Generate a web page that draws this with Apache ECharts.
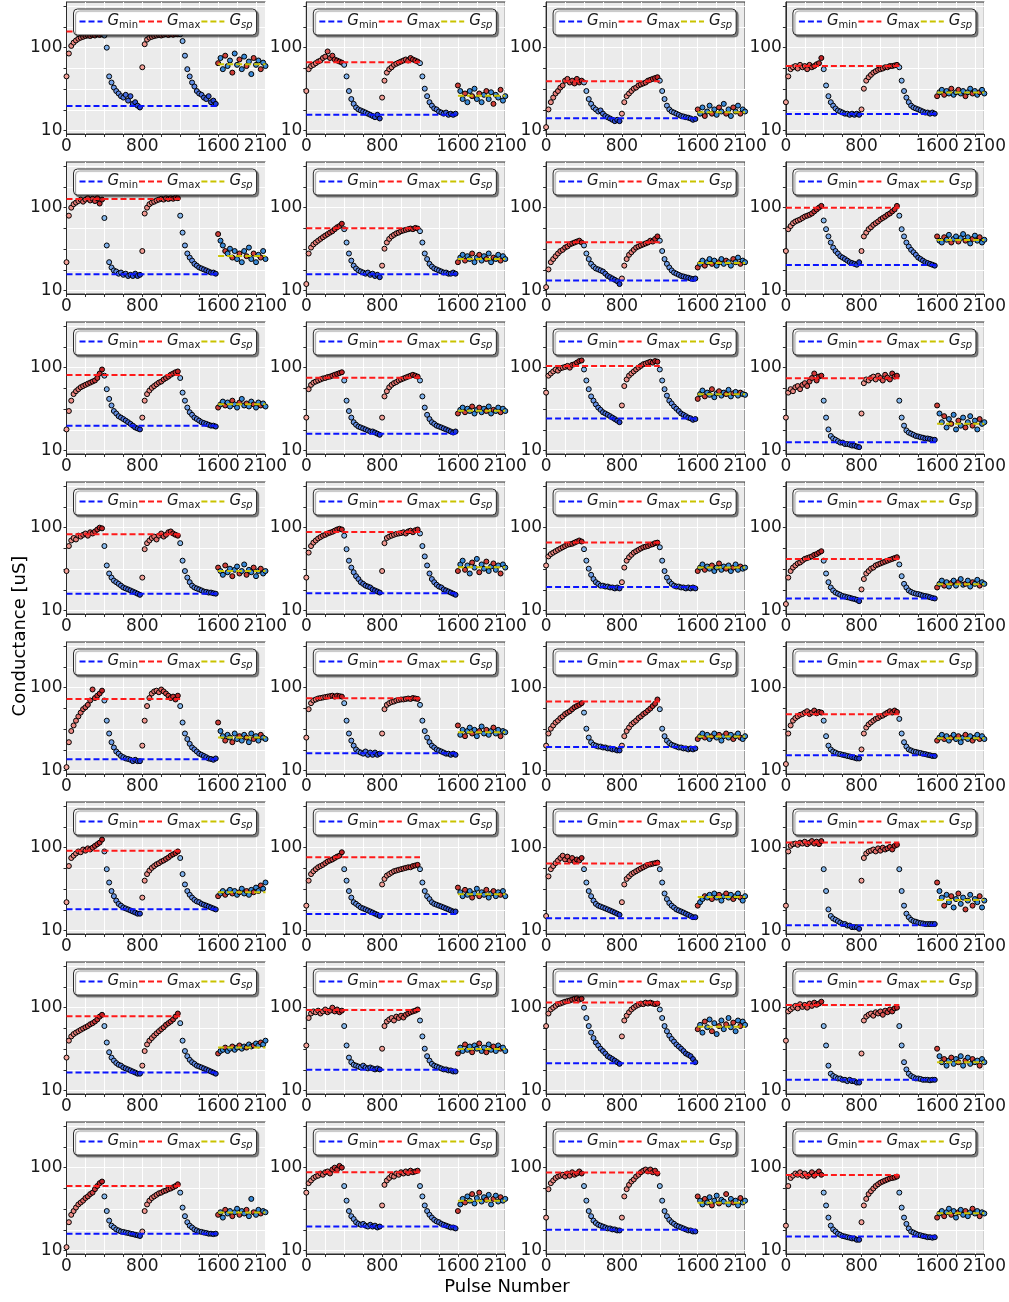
<!DOCTYPE html>
<html>
<head>
<meta charset="utf-8">
<script src="https://cdn.jsdelivr.net/npm/echarts@6/dist/echarts.min.js"></script>
<style>
  html, body { margin: 0; padding: 0; background: #ffffff; }
  #chart { width: 1009px; height: 1302px; }
</style>
</head>
<body>
<div id="chart"></div>
<script>
// Pulse numbers at which each device trace is sampled
const pulseNumbers = [
  0,25,50,75,100,125,150,175,200,225,250,275,300,325,350,375,
  400,425,450,475,500,525,550,575,600,625,650,675,700,725,750,775,
  800,825,850,875,900,925,950,975,1000,1025,1050,1075,1100,1125,1150,1175,
  1200,1225,1250,1275,1300,1325,1350,1375,1400,1425,1450,1475,1500,1525,1550,1575,
  1600,1625,1650,1675,1700,1725,1750,1775,1800,1825,1850,1875,1900,1925,1950,1975,2000,2025,2050,2075,2100
];

// Reference conductance levels per device (uS)
const gMin = [19.8,15.5,14.1,15.8, 15.7,15.7,13.2,20.4, 20.0,16.0,24.3,12.6, 16.0,16.2,19.3,14.0,
              13.7,16.2,19.3,15.3, 18.1,15.9,14.1,11.6, 16.5,17.8,21.3,13.5, 16.0,19.5,17.9,14.8];
const gMax = [156,66.5,39.3,60, 127,56.4,38.2,100, 81.6,75.8,104.7,74.3, 83,88.7,66,41.9,
              73,74.3,68.3,47.7, 92,76.6,64.2,115, 78.7,93.7,115,107.7, 60,87.9,87.1,81.6];
const gSp  = [63,26.4,16.6,28.7, 26.2,24.1,21.5,40.8, 36.1,30.3,47.7,21, 30,33.3,33,20.8,
              25,29,25.7,24.5, 29,27.4,25.5,23.4, 33,31.7,59,21.9, 28.7,40,37.8,28.2];

// Pulse spans of the dashed reference levels
const gMinSpan = [0, 1600];
const gMaxSpan = [0, 1200];
const gSpSpan  = [1600, 2100];

// Axis tick positions
const xTickLabels = [0, 800, 1600, 2100];
const yTickValues = [10, 17.783, 31.623, 56.234, 100, 177.83, 316.23];
const yTickLabels = [10, 100];

// Conductance traces (uS): potentiation, depression, potentiation, depression, set-point hold
const traces = [
  [45,85,105,115,122,128,132,135,138,140,138,142,140,145,142,145, 140,100,45,38,33,30,28,26,25,27,23,26,21,22,20,19,
   58,110,125,132,135,138,140,142,140,143,145,142,145,143,146,145, 145,120,80,55,45,38,34,30,28,27,25,24,26,22,23,21,
   65,75,55,80,60,70,50,85,62,72,55,78,60,68,48,75,62,70,55,66,60],
  [30,55,60,62,65,68,70,75,78,90,75,80,72,70,68,66, 62,45,30,24,21,19,18,17.5,17,16.5,16,15.5,15,14.5,15.5,14,
   25,40,50,55,58,62,64,66,68,70,72,70,75,72,70,68, 65,45,32,26,22,20,18.5,18,17,16.5,16,16.5,15.5,16,15.5,16,
   35,30,24,28,22,30,26,32,24,28,22,27,30,24,29,21,27,25,31,23,26],
  [11,18,22,25,28,30,33,35,40,42,38,40,37,42,38,40, 38,30,24,21,19,18,17,17.5,16,15,14.5,14,13.5,13,13.5,13,
   16,22,26,28,30,32,33,35,36,37,38,40,41,42,43,44, 40,30,24,20,18,17,16.5,16,15.5,15,14.8,14.5,14.3,14,13.5,13.8,
   18,16,19,15,17,20,16,18,15.5,19,17,21,16,18,15,19,17,20,16,18,17],
  [22,45,55,58,60,56,62,58,60,55,62,58,60,63,65,75, 55,35,26,22,20,18.5,17.5,17,16.5,16,16,15.5,16,15.5,16,15.5,
   18,32,40,44,47,50,52,54,55,56,58,58,60,60,61,62, 58,40,30,25,22,20,19,18.5,18,17.5,17,16.5,16.5,16,16.5,16,
   26,29,31,27,30,28,32,27,29,31,28,30,26,29,32,28,30,27,29,31,28],
  [22,80,100,110,115,120,125,118,125,130,122,128,120,130,112,125, 75,35,22,19,17.5,17,16,16.5,15.5,16,15,15.5,15,16,15,15.5,
   30,85,100,110,115,118,122,125,128,125,130,127,130,128,132,130, 80,50,35,28,25,23,21,20,19,18.5,18,17.5,17,16.5,16.5,16,
   48,40,35,30,28,32,25,30,24,28,22,30,26,33,24,28,22,27,25,30,24],
  [12,28,33,36,38,40,42,44,46,48,50,52,55,58,60,64, 55,38,28,23,20,18.5,17.5,17,16.5,16,16.5,15.5,16,15,15.5,14.5,
   20,32,38,42,45,47,49,50,52,53,54,55,56,55,57,56, 52,38,28,24,21,19.5,18.5,18,17.5,17,16.5,16.5,16,16,16.5,16,
   22,25,27,23,26,24,28,22,25,27,23,26,24,28,22,25,24,27,23,26,24],
  [11,18,22,24,26,28,30,31,33,34,36,37,38,39,40,38, 35,28,24,21,19.5,18.5,18,17.5,17,16,15,14.5,14,13.5,13,12,
   14,20,24,27,29,31,33,34,35,36,37,38,40,39,42,45, 40,30,24,21,19,17.5,16.5,16,15.5,15,14.8,14.5,14.3,14,13.8,14,
   19,21,23,20,22,24,21,23,20,22,24,21,23,22,20,24,22,25,21,23,22],
  [30,55,60,65,68,70,72,75,78,80,82,85,90,95,100,105, 70,55,45,38,33,30,28,26,25,24,23,22,21.5,21,20.5,22,
   30,45,50,55,58,62,65,68,72,75,78,82,85,90,95,105, 80,55,45,38,34,31,29,27,25,24,23,22,21.5,21,20.5,20,
   45,40,38,44,41,47,38,42,45,39,43,48,40,44,37,42,46,40,44,38,41],
  [18,30,40,48,52,55,58,60,62,64,66,68,70,75,85,95, 80,55,42,35,30,28,26,25,24,23,22,21,20,19,18.5,18,
   25,40,48,53,57,60,63,66,68,72,75,78,82,85,88,90, 75,50,40,33,29,27,25,24,23,22,21.5,21,20.5,20,20,19.5,
   33,36,39,35,38,34,40,36,33,38,42,35,37,34,39,36,33,38,35,37,34],
  [25,55,62,66,68,70,72,74,75,77,78,80,82,84,86,88, 70,40,30,25,22,20.5,19.5,19,18.5,18,17.5,17,17,16.5,16,15.5,
   25,45,52,58,62,65,67,70,72,74,76,78,80,82,80,78, 70,45,33,27,24,22,21,20,19.5,19,18.5,18,17.5,17,16.5,17,
   28,31,33,29,32,30,34,28,31,33,29,32,30,34,28,31,30,33,29,32,30],
  [50,80,85,90,95,92,98,100,102,105,100,108,110,115,120,122, 95,70,55,45,40,36,33,31,29,28,27,26,25,24,23,22,
   35,60,72,80,85,90,95,100,105,110,112,115,118,115,120,118, 95,70,55,46,40,37,34,32,30,28,27,26,25,24.5,23.5,24,
   42,48,53,45,50,47,55,44,49,52,46,50,48,54,45,49,51,46,50,48,47],
  [25,50,55,52,58,60,55,62,65,60,68,75,85,70,78,80, 40,25,18,15,14,13.5,13,12.5,12.5,12,12,11.8,11.5,11.5,11.2,11,
   28,65,72,70,75,78,72,80,75,70,82,76,72,85,78,80, 40,25,20,17.5,16.5,16,15.5,15,14.8,14.5,14.3,14,14,13.8,13.5,13.5,
   35,28,22,26,19,24,21,27,18,23,20,25,19,22,26,20,23,18,24,21,22],
  [30,60,70,75,72,80,78,82,85,80,88,85,90,95,100,98, 60,35,28,25,23,22,21,20,19,18.5,18,17.5,17,16.5,16,15.5,
   25,55,65,70,75,78,72,80,85,78,82,88,90,85,82,80, 65,40,30,25,22,20,19,18.5,18,17.5,17,16.8,16.5,16.5,16.2,16,
   33,30,27,35,29,32,26,31,34,28,30,36,27,31,29,33,26,30,32,28,30],
  [25,50,60,66,70,74,77,80,82,85,87,89,92,95,97,95, 80,55,40,33,29,26,24,22,21,20,19.5,19,18,17.5,17,16.5,
   30,65,75,78,80,82,84,85,86,88,85,90,92,88,93,95, 85,60,45,35,28,24,22,20.5,19.5,19,18,17.5,17,16.5,16,15.5,
   30,36,40,31,35,28,38,33,42,29,36,32,39,30,34,37,31,35,28,36,33],
  [35,45,48,50,52,54,56,58,60,62,63,64,66,68,70,68, 55,40,32,27,24,22,21,20,20,19.5,19.5,19,19,18.5,19,18.5,
   22,33,40,44,47,50,52,54,56,58,59,60,62,63,65,66, 58,40,30,25,22.5,21,20,19.5,19.5,19,19,18.5,19,18.5,19,18.5,
   30,33,36,31,34,32,35,30,33,37,31,34,32,35,30,33,36,31,34,32,33],
  [12,25,30,33,35,37,38,40,42,43,44,45,47,48,50,52, 40,28,22,19,17.5,16.5,16,15.5,15,14.8,14.5,14.3,14,13.8,13.5,13,
   18,24,28,30,32,33,35,36,37,38,39,40,41,42,43,44, 36,26,21,19,17.5,16.8,16.3,16,15.8,15.5,15.2,15,14.8,14.5,14.2,14,
   19,21,23,20,22,19.5,21.5,23,20,22,24,20.5,21,23,19.5,22,21,23.5,20,22,21],
  [11,22,30,35,40,45,50,55,58,62,70,95,75,80,85,92, 70,40,28,22,19,17,16,15,14.5,14,13.8,13.5,13,13.5,13,13,
   20,40,60,75,85,90,92,88,95,90,85,80,75,78,72,80, 60,38,28,24,21,19,18,17,16,15.5,15,14.5,14,13.8,13.5,14,
   38,30,26,23,27,25,22,28,24,26,23,27,25,22,28,24,26,23,27,25,24],
  [25,55,65,70,72,74,75,76,77,78,79,80,78,80,79,78, 65,40,28,23,20,18,17,16.5,16,17,15.5,16.5,15.5,16.5,15.5,16,
   28,55,62,65,67,68,70,71,72,72,73,74,73,75,74,73, 62,40,30,25,22,20,19,18,17.5,17,16.5,16,16,15.5,16,15.5,
   35,27,31,26,30,33,28,31,26,30,34,28,31,27,30,33,28,31,26,30,29],
  [20,28,32,35,38,40,43,45,48,50,52,55,58,60,62,65, 50,32,25,22,20.5,20,19.5,19.5,19,19,18.5,18.5,18,18,17.5,17.5,
   20,26,30,33,36,38,40,43,45,48,50,53,56,60,64,72, 55,32,26,23,21.5,20.5,20,19.5,19,19,18.5,18.5,18,18.5,18,18.5,
   24,26,28,25,27,24,26,28,25,27,23,26,28,25,27,24,26,28,25,24,26],
  [12,28,35,40,43,45,47,48,50,52,48,50,53,49,51,50, 40,26,20,18,17,16.5,16,15.8,15.5,15.3,15,14.8,14.5,14.3,14,14,
   18,28,33,36,38,40,42,43,45,46,48,50,52,50,53,51, 42,28,22,19.5,18,17.5,17,16.8,16.5,16.3,16,15.8,15.5,15.3,15,15,
   23,25,27,24,26,23,25,27,24,26,22,25,27,24,26,23,25,27,24,26,24],
  [22,60,75,80,85,90,88,95,92,98,95,100,105,110,115,125, 90,55,38,30,26,23,21,20,19,18.5,18,17.5,17,16.5,16,16,
   25,40,48,53,57,60,63,65,68,70,73,76,80,83,86,90, 75,48,36,30,27,25,23.5,22.5,22,21,20.5,20,19.5,19,18.5,18,
   26,28,30,27,29,31,28,30,27,29,32,28,30,27,31,29,33,30,35,32,38],
  [20,40,48,52,55,58,60,62,65,68,70,72,75,78,80,88, 55,40,30,25,22,21,20,19,18.5,18,17.5,17,16.5,16,15.5,15,
   36,42,46,48,50,52,53,54,55,56,57,58,58,60,61,62, 55,38,30,26,24,22,21,20.5,20,19.5,19,18.5,18,17.5,17,17,
   33,29,26,31,27,30,25,28,32,26,29,27,31,25,28,30,26,29,27,30,26],
  [15,45,55,60,65,70,75,80,72,78,70,75,68,72,70,75, 55,38,30,26,23,21,20,19.5,19,18.5,18,17.5,17,16.5,16,15.5,
   22,36,42,45,48,50,52,54,56,58,60,62,63,64,65,66, 55,38,28,24,21.5,20,19,18,17.5,17,16.5,16,15.5,15,14.5,14.5,
   20,22,24,26,25,27,24,28,25,27,23,26,28,25,27,24,26,28,25,23,26],
  [20,90,105,110,112,108,115,112,118,110,115,120,112,118,110,120, 55,30,18,15,14,13.5,13,12.5,12,12,11.5,11.5,11,11,11,10.5,
   40,75,85,90,92,95,90,98,92,100,95,98,102,95,105,108, 55,30,20,16,14.5,13.5,13,12.8,12.5,12.3,12.2,12,12,12,12,12,
   38,30,25,20,27,22,26,19,24,28,21,25,18,23,27,20,24,22,26,19,23],
  [25,40,45,48,50,52,54,56,58,60,63,65,68,72,78,82, 60,38,29,25,23,21.5,20.5,20,19,18.5,18,17.5,17,16.5,16,16,
   20,30,36,40,43,46,49,52,55,58,62,65,68,72,78,85, 65,40,30,26,23.5,22,21,20,19.5,19,18.5,18,17.5,17,16.5,16,
   28,30,31,33,30,32,34,31,33,35,32,34,33,36,34,35,37,35,38,36,40],
  [35,75,85,90,88,92,85,90,95,88,92,100,90,95,88,92, 60,35,25,22,20.5,20,19.5,19,20,19,18.5,19,18.5,18,18.5,18,
   32,60,68,72,75,70,78,75,80,76,82,85,88,90,92,95, 70,45,32,26,23,21,20,19.5,19,18.5,18,18,17.5,17.5,17,17,
   28,33,30,36,31,34,29,35,32,37,30,33,29,36,31,34,30,35,32,33,30],
  [60,85,95,100,105,110,112,115,118,120,122,125,128,130,125,128, 100,75,60,50,43,38,35,32,30,28,26,25,24,23,22,21,
   45,70,80,88,95,100,105,108,112,110,115,112,115,112,110,112, 95,75,60,52,46,42,39,36,34,32,30,28,27,26,24,22,
   55,62,50,68,58,72,52,65,48,60,70,55,63,75,58,66,52,70,60,68,62],
  [40,90,95,100,105,98,110,102,108,100,112,105,115,108,112,118, 60,35,20,16,15,14.5,14,14,13.5,13.5,13,13.5,13,13,12.5,12.5,
   28,70,78,82,85,80,88,85,90,82,92,88,95,90,98,100, 60,35,22,18,16,15,14.5,14,14,13.8,13.5,13.5,13.5,13.3,13.5,13.5,
   32,26,22,24,20,23,25,21,24,22,26,20,23,25,21,24,22,23,20,24,22],
  [11,22,27,30,33,36,38,40,43,45,48,50,55,60,65,68, 45,30,23,20,19,18,17.5,17,16.8,16.5,16.3,16,15.8,15.5,15.3,15,
   17,30,36,40,43,45,47,49,50,52,53,55,56,58,60,63, 50,33,26,22,20,19,18,17.5,17,16.8,16.5,16.3,16,16,15.8,16,
   27,29,25,31,28,30,26,29,32,27,30,28,31,26,42,29,27,31,28,30,29],
  [50,65,70,75,78,80,85,82,88,90,85,95,100,95,105,100, 60,40,30,26,24,22,21,20.5,21,20,19.5,20.5,19.5,20,19,19.5,
   35,62,70,75,80,78,85,82,88,85,90,86,92,88,90,92, 60,45,35,30,27,25,23.5,22.5,22,21,20.5,20,19.5,19,19,18.5,
   30,36,42,38,45,40,48,37,43,50,39,44,41,47,36,42,46,39,44,40,42],
  [25,55,65,70,75,78,80,82,78,85,80,88,82,85,90,85, 60,40,30,26,23,21.5,20.5,20,19.5,19,18.5,18.5,18,18,17.5,17.5,
   25,45,55,62,68,72,78,82,88,92,95,90,95,88,92,85, 60,40,30,26,23.5,22,21,20,19.5,19,18.5,18,17.5,17.5,17,17,
   45,40,36,42,38,44,35,40,46,37,41,39,48,36,42,38,40,35,43,38,40],
  [20,60,75,80,85,82,88,80,85,78,82,88,80,85,90,82, 50,35,25,20,18,17,16,15.5,15,14.8,14.5,14.3,14,14,13.5,13.5,
   22,35,42,48,52,56,60,63,66,68,70,72,74,75,76,78, 50,33,25,21,18.5,17,16.5,16,15.5,15.3,15,14.8,14.5,14.5,14.3,14.5,
   25,28,30,26,29,32,27,30,25,29,31,27,30,26,29,32,28,30,26,29,28]
];

// ---- styling helpers ----
const FONT = 'DejaVu Sans';
const INK = '#1a1a1a';
const potLight = [244, 160, 152], potDark = [190, 24, 28];
const depLight = [136, 186, 238], depDark = [24, 52, 210];

function mixColor(a, b, t) {
  const c = a.map((v, i) => Math.round(v + (b[i] - v) * t));
  return 'rgb(' + c.join(',') + ')';
}

// Marker fill: reds while potentiating, blues while depressing,
// both darkening through each 400-pulse train; mixed during the hold.
function markerColor(pulse, idx) {
  if (pulse >= 1600) return idx % 3 === 1 ? '#cf3f38' : '#3a8ad8';
  const t = (pulse % 400) / 400;
  const potentiating = Math.floor(pulse / 400) % 2 === 0;
  return potentiating ? mixColor(potLight, potDark, t) : mixColor(depLight, depDark, t);
}

const legendText = {
  Gmin: '{g|G}{s|min}',
  Gmax: '{g|G}{s|max}',
  Gsp: '{g|G}{si|sp}'
};

// ---- layout ----
const NCOLS = 4;
const PLOT_W = 199, PLOT_H = 132;
const grids = [], xAxes = [], yAxes = [], series = [], legends = [];

traces.forEach((trace, k) => {
  const row = Math.floor(k / NCOLS), col = k % NCOLS;
  const left = 66.5 + col * 239.8;
  const top = 2 + row * 160;

  grids.push({
    left: left, top: top, width: PLOT_W, height: PLOT_H,
    show: true, backgroundColor: '#ebebeb',
    borderColor: '#2b2b2b', borderWidth: 1
  });

  xAxes.push({
    gridIndex: k, type: 'value', min: 0, max: 2100, interval: 200,
    axisLine: { show: true, onZero: false, lineStyle: { color: '#2b2b2b', width: 1 } },
    axisTick: { show: true, length: 3, lineStyle: { color: '#2b2b2b', width: 1 } },
    axisLabel: {
      show: true, showMinLabel: true, showMaxLabel: true, margin: 4,
      fontSize: 17, fontFamily: FONT, color: INK,
      formatter: v => (xTickLabels.indexOf(v) >= 0 ? String(v) : '')
    },
    splitLine: { show: true, lineStyle: { color: '#ffffff', width: 1 } }
  });

  yAxes.push({
    gridIndex: k, type: 'log', logBase: 10, min: 9.1, max: 355,
    axisLine: { show: true, onZero: false, lineStyle: { color: '#2b2b2b', width: 1 } },
    axisTick: { show: true, length: 3, customValues: yTickValues, lineStyle: { color: '#2b2b2b', width: 1 } },
    axisLabel: {
      show: true, margin: 4, customValues: yTickLabels,
      fontSize: 17, fontFamily: FONT, color: INK,
      formatter: v => String(Math.round(v))
    },
    splitLine: { show: true, lineStyle: { color: '#ffffff', width: 1 } }
  });

  series.push({
    type: 'scatter', xAxisIndex: k, yAxisIndex: k, z: 2, silent: true,
    symbol: 'circle', symbolSize: 5,
    data: pulseNumbers.map((p, i) => [p, trace[i]]),
    itemStyle: {
      color: params => markerColor(params.data[0], params.dataIndex),
      borderColor: '#000000', borderWidth: 1, opacity: 1
    }
  });

  const levelLine = (name, level, span, color) => ({
    name: name, type: 'line', xAxisIndex: k, yAxisIndex: k, z: 3, silent: true,
    symbol: 'none', showSymbol: false,
    data: [[span[0], level], [span[1], level]],
    lineStyle: { color: color, width: 2, type: [6, 3] },
    itemStyle: { color: color }
  });
  series.push(levelLine('Gmin', gMin[k], gMinSpan, '#0a14ff'));
  series.push(levelLine('Gmax', gMax[k], gMaxSpan, '#ff1a1a'));
  series.push(levelLine('Gsp', gSp[k], gSpSpan, '#c9c300'));

  legends.push({
    left: left + 7, top: top + 7,
    orient: 'horizontal',
    data: ['Gmin', 'Gmax', 'Gsp'],
    selectedMode: false,
    itemWidth: 23, itemHeight: 12, itemGap: 0,
    padding: [5, 4, 5, 5],
    itemStyle: { opacity: 0 },
    lineStyle: { width: 2, type: [6, 3] },
    backgroundColor: '#ffffff',
    borderColor: '#2a2a2a', borderWidth: 1, borderRadius: 4,
    shadowColor: 'rgba(0,0,0,0.45)', shadowBlur: 1, shadowOffsetX: 2, shadowOffsetY: 2,
    formatter: name => legendText[name],
    textStyle: {
      fontFamily: FONT, color: INK,
      rich: {
        g: { fontSize: 15, fontStyle: 'italic', fontFamily: FONT, color: INK },
        s: { fontSize: 10, fontFamily: FONT, color: INK, padding: [7, 0, 0, 0] },
        si: { fontSize: 10, fontStyle: 'italic', fontFamily: FONT, color: INK, padding: [7, 0, 0, 0] }
      }
    }
  });
});

const chart = echarts.init(document.getElementById('chart'), null, { renderer: 'canvas' });
chart.setOption({
  animation: false,
  backgroundColor: '#ffffff',
  textStyle: { fontFamily: FONT },
  grid: grids,
  xAxis: xAxes,
  yAxis: yAxes,
  legend: legends,
  series: series,
  graphic: [
    {
      type: 'text', x: 507, y: 1287, silent: true,
      style: { text: 'Pulse Number', fontSize: 18, fontFamily: FONT, fill: '#000000', align: 'center', verticalAlign: 'middle' }
    },
    {
      type: 'text', x: 20, y: 636, rotation: Math.PI / 2, silent: true,
      style: { text: 'Conductance [uS]', fontSize: 18, fontFamily: FONT, fill: '#000000', align: 'center', verticalAlign: 'middle' }
    }
  ]
});
</script>
</body>
</html>
